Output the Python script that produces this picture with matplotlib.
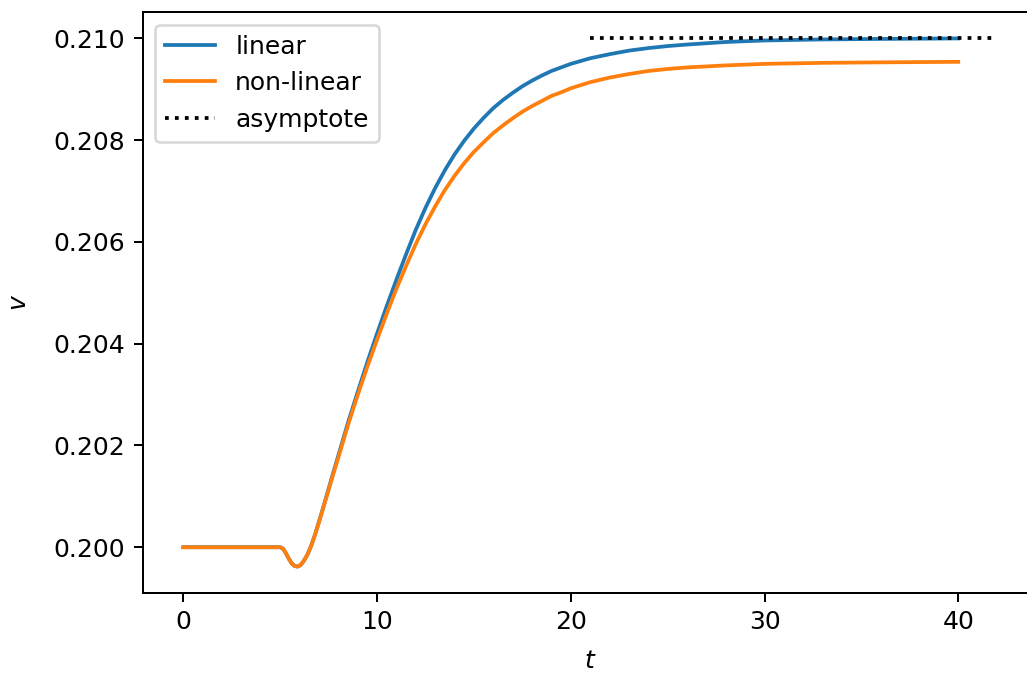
import matplotlib
matplotlib.use('Agg')
import matplotlib.pyplot as plt
import numpy as np

# values
t = [0.0, 5.0, 5.15, 5.3, 5.45, 5.6, 5.75, 5.9, 6.05, 6.2, 6.4, 6.6, 6.8, 7.0,
     7.25, 7.5, 7.75, 8.0, 8.5, 9.0, 9.5, 10.0, 10.5, 11.0, 11.5, 12.0, 12.5,
     13.0, 13.5, 14.0, 14.5, 15.0, 15.5, 16.0, 16.5, 17.0, 17.5, 18.0, 18.5,
     19.0, 19.5, 20.0, 21.0, 22.0, 23.0, 24.0, 25.0, 26.0, 28.0, 30.0, 33.0,
     36.0, 40.0]

v_lin = [0.20000, 0.20000, 0.19997, 0.19988, 0.19977, 0.19968, 0.19963, 0.19962,
         0.19965, 0.19972, 0.19985, 0.20003, 0.20025, 0.20050, 0.20082, 0.20115,
         0.20148, 0.20180, 0.20245, 0.20305, 0.20364, 0.20420, 0.20474, 0.20526,
         0.20576, 0.20624, 0.20667, 0.20706, 0.20741, 0.20772, 0.20799, 0.20823,
         0.20844, 0.20863, 0.20879, 0.20893, 0.20906, 0.20917, 0.20927, 0.20936,
         0.20943, 0.20950, 0.20961, 0.20969, 0.20976, 0.20981, 0.20985, 0.20988,
         0.20993, 0.20996, 0.20998, 0.20999, 0.21000]

v_nl = [0.20000, 0.20000, 0.19997, 0.19988, 0.19977, 0.19968, 0.19963, 0.19962,
        0.19965, 0.19972, 0.19985, 0.20003, 0.20025, 0.20049, 0.20081, 0.20113,
        0.20145, 0.20176, 0.20240, 0.20299, 0.20355, 0.20408, 0.20459, 0.20508,
        0.20553, 0.20596, 0.20635, 0.20670, 0.20702, 0.20730, 0.20755, 0.20777,
        0.20796, 0.20814, 0.20829, 0.20843, 0.20856, 0.20867, 0.20877, 0.20887,
        0.20894, 0.20902, 0.20914, 0.20923, 0.20930, 0.20936, 0.20940, 0.20943,
        0.20947, 0.20950, 0.20952, 0.20953, 0.20954]

t_asym = [21, 42]
v_asym = [0.21, 0.21]

fig = plt.figure(figsize=(1027/180, 679/180), dpi=180)
ax = fig.add_axes([0.1389, 0.1267, 0.8715, 0.8556])

ax.plot(t, v_lin, label='linear')
ax.plot(t, v_nl, label='non-linear')
ax.plot(t_asym, v_asym, 'k:', label='asymptote')

ax.set_xlabel('$t$', labelpad=6)
ax.set_ylabel('$v$', labelpad=9)
ax.set_xticks([0, 10, 20, 30, 40])
ax.set_yticks(np.arange(0.200, 0.2101, 0.002))
ax.set_yticklabels(['0.200', '0.202', '0.204', '0.206', '0.208', '0.210'])
ax.legend(loc='upper left')

fig.savefig('out.png', dpi=180)
